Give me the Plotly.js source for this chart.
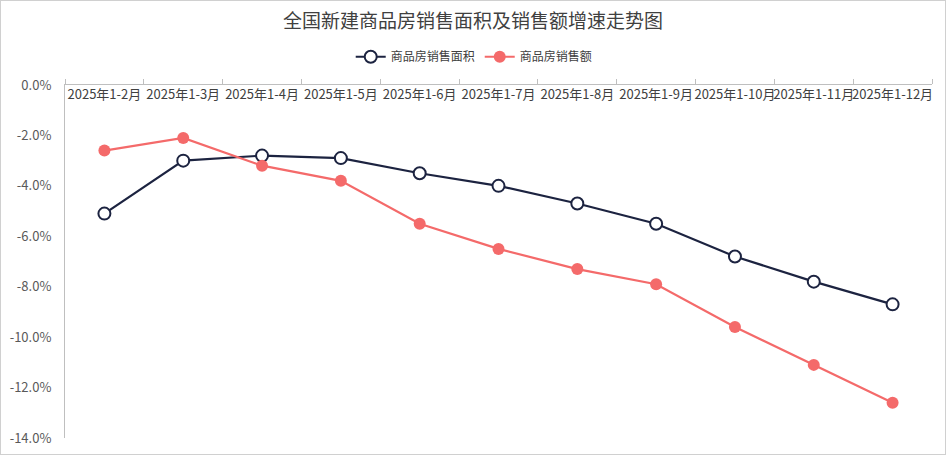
<!DOCTYPE html>
<html>
<head>
<meta charset="utf-8">
<script src="https://cdn.plot.ly/plotly-3.0.1.min.js"></script>
<style>
html,body{margin:0;padding:0;background:#fff;}
#chart{width:944px;height:453px;border:1px solid #d0d0d0;}
</style>
</head>
<body>
<div id="chart"></div>
<script>
const categories = ["2025年1-2月","2025年1-3月","2025年1-4月","2025年1-5月","2025年1-6月","2025年1-7月","2025年1-8月","2025年1-9月","2025年1-10月","2025年1-11月","2025年1-12月"];
const areaGrowth = [-5.1, -3.0, -2.8, -2.9, -3.5, -4.0, -4.7, -5.5, -6.8, -7.8, -8.7];
const salesGrowth = [-2.6, -2.1, -3.2, -3.8, -5.5, -6.5, -7.3, -7.9, -9.6, -11.1, -12.6];
const yTicks = [0, -2, -4, -6, -8, -10, -12, -14];

const font = '"Microsoft YaHei","Noto Sans CJK SC",sans-serif';
const xRange = [-0.5, categories.length - 0.5];
const traces = [
  {
    x: categories, y: areaGrowth, name: "商品房销售面积", type: "scatter", mode: "lines+markers",
    line: {color: "#1c2340", width: 2.2},
    marker: {symbol: "circle", size: 12, color: "#ffffff", line: {color: "#1c2340", width: 2}}
  },
  {
    x: categories, y: salesGrowth, name: "商品房销售额", type: "scatter", mode: "lines+markers",
    line: {color: "#f46a6a", width: 2.2},
    marker: {symbol: "circle", size: 12, color: "#f46a6a"}
  },
  {
    x: categories, y: salesGrowth, xaxis: "x2", type: "scatter", mode: "markers",
    marker: {opacity: 0}, showlegend: false, hoverinfo: "skip"
  }
];
const layout = {
  width: 944, height: 453,
  margin: {l: 64, r: 13, t: 84, b: 16},
  paper_bgcolor: "#fff", plot_bgcolor: "#fff",
  font: {family: font, color: "#595959", size: 12},
  title: {text: "全国新建商品房销售面积及销售额增速走势图", x: 0.5, xanchor: "center", y: 0.955, yanchor: "middle",
          font: {family: font, size: 19, color: "#404040"}},
  showlegend: true,
  legend: {orientation: "h", x: 0.472, xanchor: "center", y: 1.08, yanchor: "middle",
           font: {family: font, size: 12, color: "#404040"}, itemwidth: 30, tracegroupgap: 0},
  xaxis: {
    type: "category", side: "top", showline: true, linecolor: "#bfbfbf", linewidth: 1,
    ticks: "outside", ticklen: 5, tickcolor: "#bfbfbf", tickson: "boundaries",
    showticklabels: false, showgrid: false, zeroline: false, range: xRange,
    categoryorder: "array", categoryarray: categories
  },
  xaxis2: {
    type: "category", overlaying: "x", matches: "x", anchor: "free", position: 1, side: "bottom",
    showline: false, ticks: "", showgrid: false, zeroline: false, tickangle: 0,
    categoryorder: "array", categoryarray: categories,
    tickfont: {family: font, size: 13, color: "#404040"}
  },
  yaxis: {
    range: [-14, 0], tickvals: yTicks, ticktext: yTicks.map(v => v.toFixed(1) + "%"),
    showline: true, linecolor: "#bfbfbf", linewidth: 1, showgrid: false, zeroline: false,
    ticks: "", ticklabelstandoff: 10,
    tickfont: {family: font, size: 13, color: "#595959"}
  }
};
Plotly.newPlot("chart", traces, layout, {displayModeBar: false, staticPlot: true});
</script>
</body>
</html>
